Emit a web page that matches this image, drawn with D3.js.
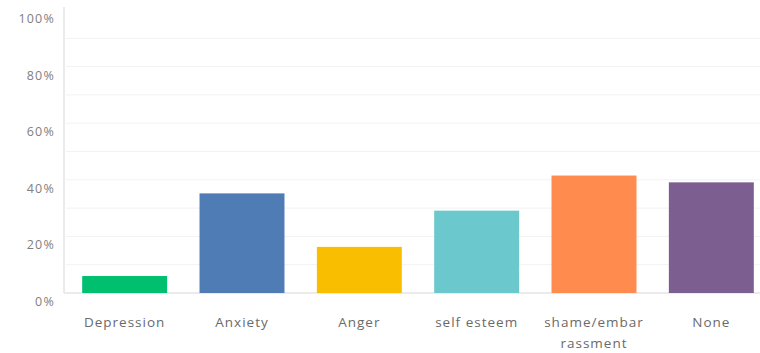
<!DOCTYPE html>
<html><head><meta charset="utf-8">
<script src="https://cdn.jsdelivr.net/npm/d3@7"></script>
<style>body{margin:0;background:#fff}svg{display:block}text{font-family:"Open Sans",sans-serif}</style>
</head><body><svg id="c" width="760" height="353"></svg>
<script>
const categories = ["Depression","Anxiety","Anger","self esteem","shame/embarrassment","None"];
const labelLines = [["Depression"],["Anxiety"],["Anger"],["self esteem"],["shame/embar","rassment"],["None"]];
const values = [6, 35.2, 16.3, 29.1, 41.5, 39.1];
const colors = ["#00BF6F","#507CB6","#F9BE00","#6BC8CD","#FF8B4F","#7D5E90"];
const yTicks = [0,20,40,60,80,100];
const gridTicks = [10,20,30,40,50,60,70,80,90];

const svg = d3.select("#c");
const x = d3.scaleBand().domain(categories).range([66,770]).paddingInner(0.276).paddingOuter(0.138);
const y = d3.scaleLinear().domain([0,100]).range([293,10]);

svg.append("g").selectAll("line").data(gridTicks).join("line")
  .attr("x1",66).attr("x2",760).attr("y1",d=>y(d)).attr("y2",d=>y(d))
  .attr("stroke","#f2f2f2").attr("stroke-width",1);

svg.append("line").attr("x1",64).attr("x2",64).attr("y1",7).attr("y2",293)
  .attr("stroke","#e4e4e4").attr("stroke-width",1.5);
svg.append("line").attr("x1",64).attr("x2",760).attr("y1",293).attr("y2",293)
  .attr("stroke","#e4e4e4").attr("stroke-width",1.5);

svg.append("g").selectAll("text").data(yTicks).join("text")
  .attr("x",55).attr("y",d=>y(d)+13).attr("text-anchor","end")
  .attr("font-size",12.5).attr("letter-spacing",1.2).attr("fill","#808080")
  .text(d=>d+"%");

svg.append("g").selectAll("rect").data(values).join("rect")
  .attr("x",(d,i)=>x(categories[i])).attr("width",x.bandwidth())
  .attr("y",d=>y(d)).attr("height",d=>y(0)-y(d))
  .attr("fill",(d,i)=>colors[i]);

const lg = svg.append("g").selectAll("text").data(labelLines).join("text")
  .attr("x",(d,i)=>x(categories[i])+x.bandwidth()/2).attr("y",327)
  .attr("text-anchor","middle").attr("font-size",13.5).attr("letter-spacing",1).attr("fill","#6a6a6a");
lg.selectAll("tspan").data(d=>d).join("tspan")
  .attr("x",function(){return this.parentNode.getAttribute("x");})
  .attr("dy",(d,i)=>i===0?0:21).text(d=>d);
</script></body></html>
